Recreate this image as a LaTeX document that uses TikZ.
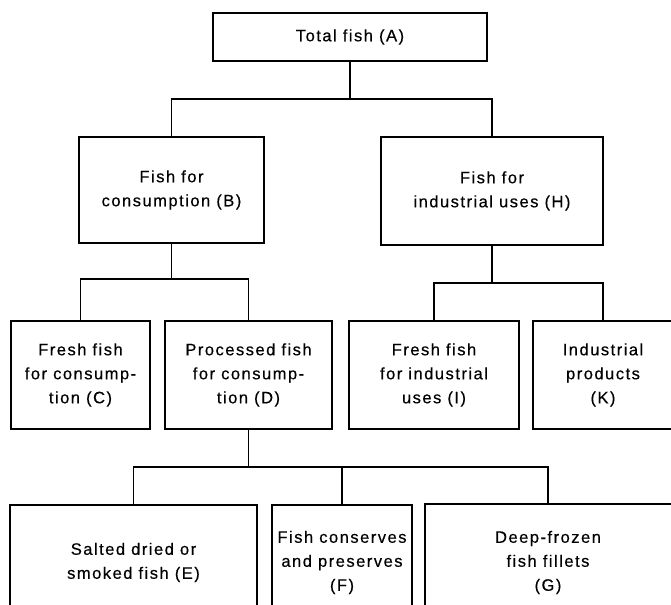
\documentclass[tikz,border=0pt]{standalone}
\usepackage{fontspec}
\setmainfont{Liberation Sans}[LetterSpace=9,FakeBold=0.4]
\begin{document}
\begin{tikzpicture}[x=0.75pt,y=-0.75pt,line width=1.4pt,
  box/.style={draw,align=center,inner sep=0pt,font=\fontsize{12.4}{18}\selectfont}]
\useasboundingbox (0,0) rectangle (671,604);
%boxes
\node[box,minimum width=205.5pt,minimum height=36pt](A) at (350,37){Total fish (A)};
\node[box,minimum width=138.75pt,minimum height=79.5pt](B) at (171.5,190){Fish for\\consumption (B)};
\node[box,minimum width=166.5pt,minimum height=81pt](H) at (492,191){Fish for\\industrial uses (H)};
\node[box,minimum width=104.25pt,minimum height=81pt](C) at (80.5,375){Fresh fish\\for consump-\\tion (C)};
\node[box,minimum width=125.25pt,minimum height=81pt](D) at (248.5,375){Processed fish\\for consump-\\tion (D)};
\node[box,minimum width=127.5pt,minimum height=81pt](I) at (434,375){Fresh fish\\for industrial\\uses (I)};
\node[box,minimum width=105pt,minimum height=81pt](K) at (603,375){Industrial\\products\\(K)};
\node[box,minimum width=185.25pt,minimum height=86.25pt](E) at (133.5,562.5){Salted dried or\\smoked fish (E)};
\node[box,minimum width=105pt,minimum height=86.25pt](F) at (342,562.5){Fish conserves\\and preserves\\(F)};
\node[box,draw=none,minimum width=183pt,minimum height=86.25pt](G) at (548,562.5){Deep-frozen\\fish fillets\\(G)};
\draw (G.south west) |- (G.north east);
\draw[gray!50,dashed,line width=0.6pt] (G.north east) -- (G.south east);
%connectors
\draw (A.south) -- ++(0,37) coordinate (a1) -| (B.north);
\draw (a1) -| (H.north);
\draw (B.south) -- ++(0,35) coordinate (b1) -| (C.north);
\draw (b1) -| (D.north);
\draw (H.south) -- ++(0,37) coordinate (h1) -| (I.north);
\draw (h1) -| (K.north);
\draw (D.south) -- ++(0,37) coordinate (d1) -| (E.north);
\draw (d1) -| (F.north);
\draw (d1) -| (G.north);
\end{tikzpicture}
\end{document}
